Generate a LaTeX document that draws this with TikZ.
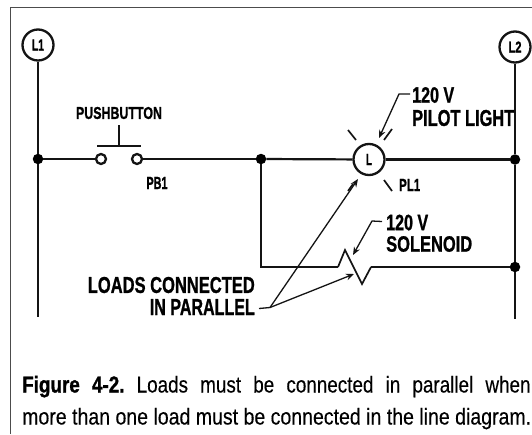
\documentclass[tikz,border=0pt]{standalone}
\usepackage{fontspec}
\usepackage{graphicx}
\setmainfont{Liberation Sans}[BoldFeatures={FakeBold=1.2},FakeBold=0.35]
\usetikzlibrary{arrows.meta}
\newcommand{\fitlbl}[3]{\resizebox{#1pt}{#2pt}{\fontsize{18}{18}\selectfont\bfseries #3}}
\tikzset{
  x=1pt,y=-1pt,
  wire/.style={line width=2.2pt,black!92},
  vwire/.style={line width=2.3pt,black!92},
  thin wire/.style={line width=1.7pt,black!92},
  frame line/.style={line width=1pt,black!70},
  bus/.style={circle,draw=black!92,line width=2.3pt,fill=white,minimum size=31pt,inner sep=0pt},
  dot/.style={circle,fill=black,inner sep=0pt,minimum size=10.5pt},
  contact/.style={circle,draw=black!92,line width=2.3pt,fill=white,inner sep=0pt,minimum size=10pt},
  lbl/.style={inner sep=0pt},
  leader/.style={line width=1.3pt,black!92,-{Stealth[length=8pt,width=6.5pt]}},
  capt/.style={inner sep=0pt,anchor=base west,font=\fontsize{23}{23}\selectfont},
}
\begin{document}
\begin{tikzpicture}
\useasboundingbox (0,0) rectangle (532,434);
\fill[white] (0,0) rectangle (532,434);
\draw[frame line] (10.5,434) -- (10.5,7.5) -- (532,7.5);
% buses
\node[bus] (L1) at (38,45) {\fitlbl{12}{11}{L1}};
\node[bus] (L2) at (515,47) {\fitlbl{13}{11}{L2}};
\coordinate (L1end) at (38,317);
\coordinate (L2end) at (515,319);
\node[dot] (J1) at (38,159) {};
\node[dot] (J2) at (261,159) {};
\node[dot] (J3) at (515,159.5) {};
\node[dot] (J4) at (515,267) {};
\draw[vwire] (L1) -- (J1) -- (L1end);
\draw[vwire] (L2) -- (J3) -- (J4) -- (L2end);
% pushbutton
\node[contact] (PBa) at (101,159) {};
\node[contact] (PBb) at (137,159) {};
\coordinate (barL) at (97,146);
\coordinate (barR) at (141,146);
\coordinate (barM) at (119,146);
\coordinate (stemT) at (119,125);
\draw[wire] (barL) -- (barR);
\draw[thin wire] (barM) -- (stemT);
\node[lbl] (PBt) at (119,113) {\fitlbl{86}{12}{PUSHBUTTON}};
\node[lbl] (PBn) at (157,183) {\fitlbl{21}{12}{PB1}};
\draw[wire] (J1) -- (PBa);
\draw[wire] (PBb) -- (J2);
% pilot light
\node[bus] (PL) at (369,159.5) {\fitlbl{6}{11}{L}};
\draw[wire] (J2) -- (PL);
\draw[wire] (PL) -- (J3);
\draw[thin wire] (348,130) -- (356,140);
\draw[thin wire] (392,129) -- (384,140);
\draw[thin wire] (384,180) -- (392,191);
\node[lbl,anchor=west] (PLn) at (399,185) {\fitlbl{21}{12}{PL1}};
% solenoid
\coordinate (SolA) at (338,267);
\coordinate (SolB) at (345,250);
\coordinate (SolC) at (362,284);
\coordinate (SolD) at (371,267);
\coordinate (Corner) at (261,267);
\draw[wire] (J2) -- (Corner) -- (SolA);
\draw[thin wire] (SolA) -- (SolB) -- (SolC) -- (SolD);
\draw[wire] (SolD) -- (J4);
% labels
\node[lbl,anchor=west] (V1) at (412,95) {\fitlbl{42}{15.5}{120 V}};
\node[lbl,anchor=west] (PLt) at (412,118) {\fitlbl{102}{16}{PILOT LIGHT}};
\node[lbl,anchor=west] (V2) at (386,222.5) {\fitlbl{42}{15.5}{120 V}};
\node[lbl,anchor=west] (Solt) at (386,244) {\fitlbl{86}{15.5}{SOLENOID}};
\node[lbl,anchor=east] (Lo1) at (255,285) {\fitlbl{167}{16}{LOADS CONNECTED}};
\node[lbl,anchor=east] (Lo2) at (255,307) {\fitlbl{105}{16}{IN PARALLEL}};
% leaders
\coordinate (K1) at (399,94);
\coordinate (K2) at (372,221);
\coordinate (V) at (270,307.5);
\draw[leader] (V1.west) ++(-2,-1) -- (K1) -- (379,138);
\draw[leader] (V2.west) ++(-4,-1) -- (K2) -- (353,255);
\draw[line width=1.3pt,black!92] (Lo2.east) ++(4,1.5) -- (V);
\draw[leader] (V) -- (358,179);
\draw[leader] (V) -- (354,274);
% tick beside the arrow tip under the lamp
\draw[thin wire] (348,191) -- (353,184);
% caption
\node[capt] (C1) at (22,392.5) {\scalebox{0.82}[1]{\hbox to 620pt{\textbf{Figure\hfil\ 4-2.}\hfil\ Loads\hfil\ must\hfil\ be\hfil\ connected\hfil\ in\hfil\ parallel\hfil\ when}}};
\node[capt] (C2) at (22,424.5) {\resizebox{509pt}{\height}{more than one load must be connected in the line diagram.}};
\end{tikzpicture}
\end{document}
